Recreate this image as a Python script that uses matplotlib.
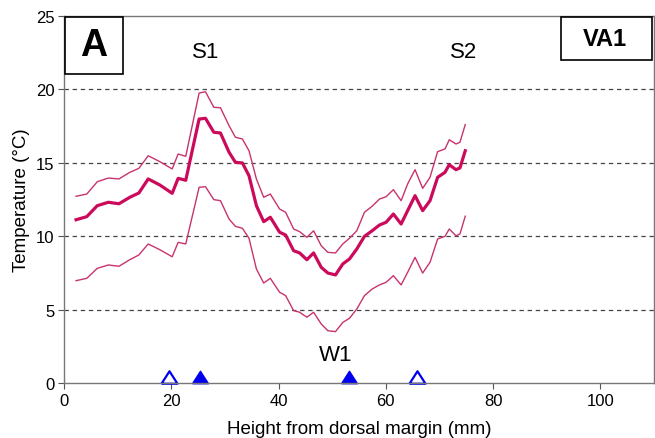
import matplotlib

matplotlib.use("Agg")
import matplotlib.pyplot as plt
from matplotlib.patches import Rectangle

plt.rcParams["font.family"] = ["Liberation Sans", "DejaVu Sans"]

# Height from dorsal margin (mm)
height_mm = [
    2.25, 4.24, 6.21, 8.26, 10.25, 12.27, 13.95, 15.70, 17.86, 20.17,
    21.28, 22.70, 25.19, 26.38, 27.93, 29.17, 30.77, 31.96, 33.26, 34.49,
    35.87, 37.23, 38.47, 40.20, 41.32, 42.81, 43.93, 45.28, 46.53, 47.96,
    49.19, 50.62, 51.98, 53.23, 54.59, 56.02, 57.45, 58.81, 60.06, 61.41,
    62.85, 64.07, 65.45, 66.87, 68.24, 69.66, 71.03, 71.83, 73.08, 73.82, 74.81,
]

# Temperature (degC): mean, upper and lower curves
temp_mean = [
    11.12, 11.33, 12.08, 12.31, 12.21, 12.65, 12.94, 13.90, 13.49, 12.92,
    13.94, 13.81, 17.98, 18.03, 17.08, 17.03, 15.72, 15.03, 14.99, 14.12,
    12.08, 10.99, 11.29, 10.27, 10.08, 9.01, 8.86, 8.40, 8.86, 7.88,
    7.49, 7.36, 8.11, 8.45, 9.13, 9.99, 10.37, 10.76, 10.95, 11.51,
    10.83, 11.74, 12.76, 11.74, 12.42, 14.01, 14.35, 14.87, 14.53, 14.65, 15.82,
]
temp_upper = [
    12.72, 12.87, 13.71, 13.96, 13.90, 14.35, 14.62, 15.48, 15.08, 14.58,
    15.60, 15.44, 19.75, 19.84, 18.78, 18.75, 17.53, 16.74, 16.62, 15.82,
    13.90, 12.65, 12.87, 11.85, 11.63, 10.49, 10.31, 9.92, 10.37, 9.35,
    8.90, 8.86, 9.47, 9.86, 10.37, 11.63, 12.04, 12.53, 12.69, 13.17,
    12.42, 13.56, 14.53, 13.26, 14.01, 15.76, 15.94, 16.57, 16.28, 16.40, 17.60,
]
temp_lower = [
    6.97, 7.13, 7.81, 8.04, 7.95, 8.40, 8.72, 9.47, 9.08, 8.60,
    9.58, 9.47, 13.33, 13.37, 12.49, 12.42, 11.17, 10.67, 10.54, 9.86,
    7.77, 6.81, 7.13, 6.18, 5.95, 4.93, 4.82, 4.48, 4.82, 4.02,
    3.56, 3.50, 4.13, 4.41, 5.04, 5.95, 6.40, 6.68, 6.86, 7.31,
    6.68, 7.54, 8.56, 7.49, 8.22, 9.81, 9.99, 10.49, 10.03, 10.15, 11.36,
]

# Triangle markers along the axis
open_marks_x = [19.6, 65.9]
filled_marks_x = [25.3, 53.1]
marks_y = 0.42

fig = plt.figure(figsize=(6.55, 4.39), dpi=100)
ax = fig.add_axes([64 / 655, 0.1253, 590 / 655, 0.836])

line_col = "#cc0a5c"
band_col = "#c8336f"

ax.plot(height_mm, temp_upper, color=band_col, lw=1.0)
ax.plot(height_mm, temp_lower, color=band_col, lw=1.0)
ax.plot(height_mm, temp_mean, color=line_col, lw=2.3)

# slightly flattened triangle, closed
tri = [(-1, -0.78), (1, -0.78), (0, 0.78), (-1, -0.78)]
ax.plot(open_marks_x, [marks_y] * 2, ls="none", marker=tri, ms=11.5,
        mfc="white", mec="#0000ee", mew=1.6, clip_on=False)
ax.plot(filled_marks_x, [marks_y] * 2, ls="none", marker=tri, ms=11.5,
        mfc="#0000ee", mec="#0000ee", clip_on=False)

ax.set_xlim(0, 110)
ax.set_ylim(0, 25)
ax.set_xticks([0, 20, 40, 60, 80, 100])
ax.set_yticks([0, 5, 10, 15, 20, 25])
for yv in [5, 10, 15, 20]:
    ax.axhline(yv, color="#444444", lw=0.9, ls=(0, (3.5, 3)), zorder=0)

ax.set_xlabel("Height from dorsal margin (mm)", fontsize=13.5, labelpad=9)
ax.set_ylabel("Temperature (\u00b0C)", fontsize=13.5, labelpad=4)
ax.tick_params(labelsize=12, direction="out", length=4, color="#555555",
               pad=3)
for side in ["left", "bottom", "top", "right"]:
    ax.spines[side].set_color("#777777")
    ax.spines[side].set_linewidth(1.0)

ax.text(26.5, 22.6, "S1", fontsize=16, ha="center", va="center")
ax.text(74.5, 22.6, "S2", fontsize=16, ha="center", va="center")
ax.text(50.6, 1.95, "W1", fontsize=16, ha="center", va="center")

# Boxed labels, placed in figure pixels
W, H = 655, 439
fig.add_artist(Rectangle((65 / W, 1 - 75 / H), 58 / W, 57 / H,
                         transform=fig.transFigure, fc="white",
                         ec="black", lw=1.2))
fig.text(94 / W, 1 - 46 / H, "A", fontsize=27, fontweight="bold",
         ha="center", va="center")
fig.add_artist(Rectangle((561 / W, 1 - 60.5 / H), 91 / W, 43 / H,
                         transform=fig.transFigure, fc="white",
                         ec="black", lw=1.2))
fig.text(605 / W, 1 - 40 / H, "VA1", fontsize=17, fontweight="bold",
         ha="center", va="center")

fig.savefig("out.png", dpi=100)
